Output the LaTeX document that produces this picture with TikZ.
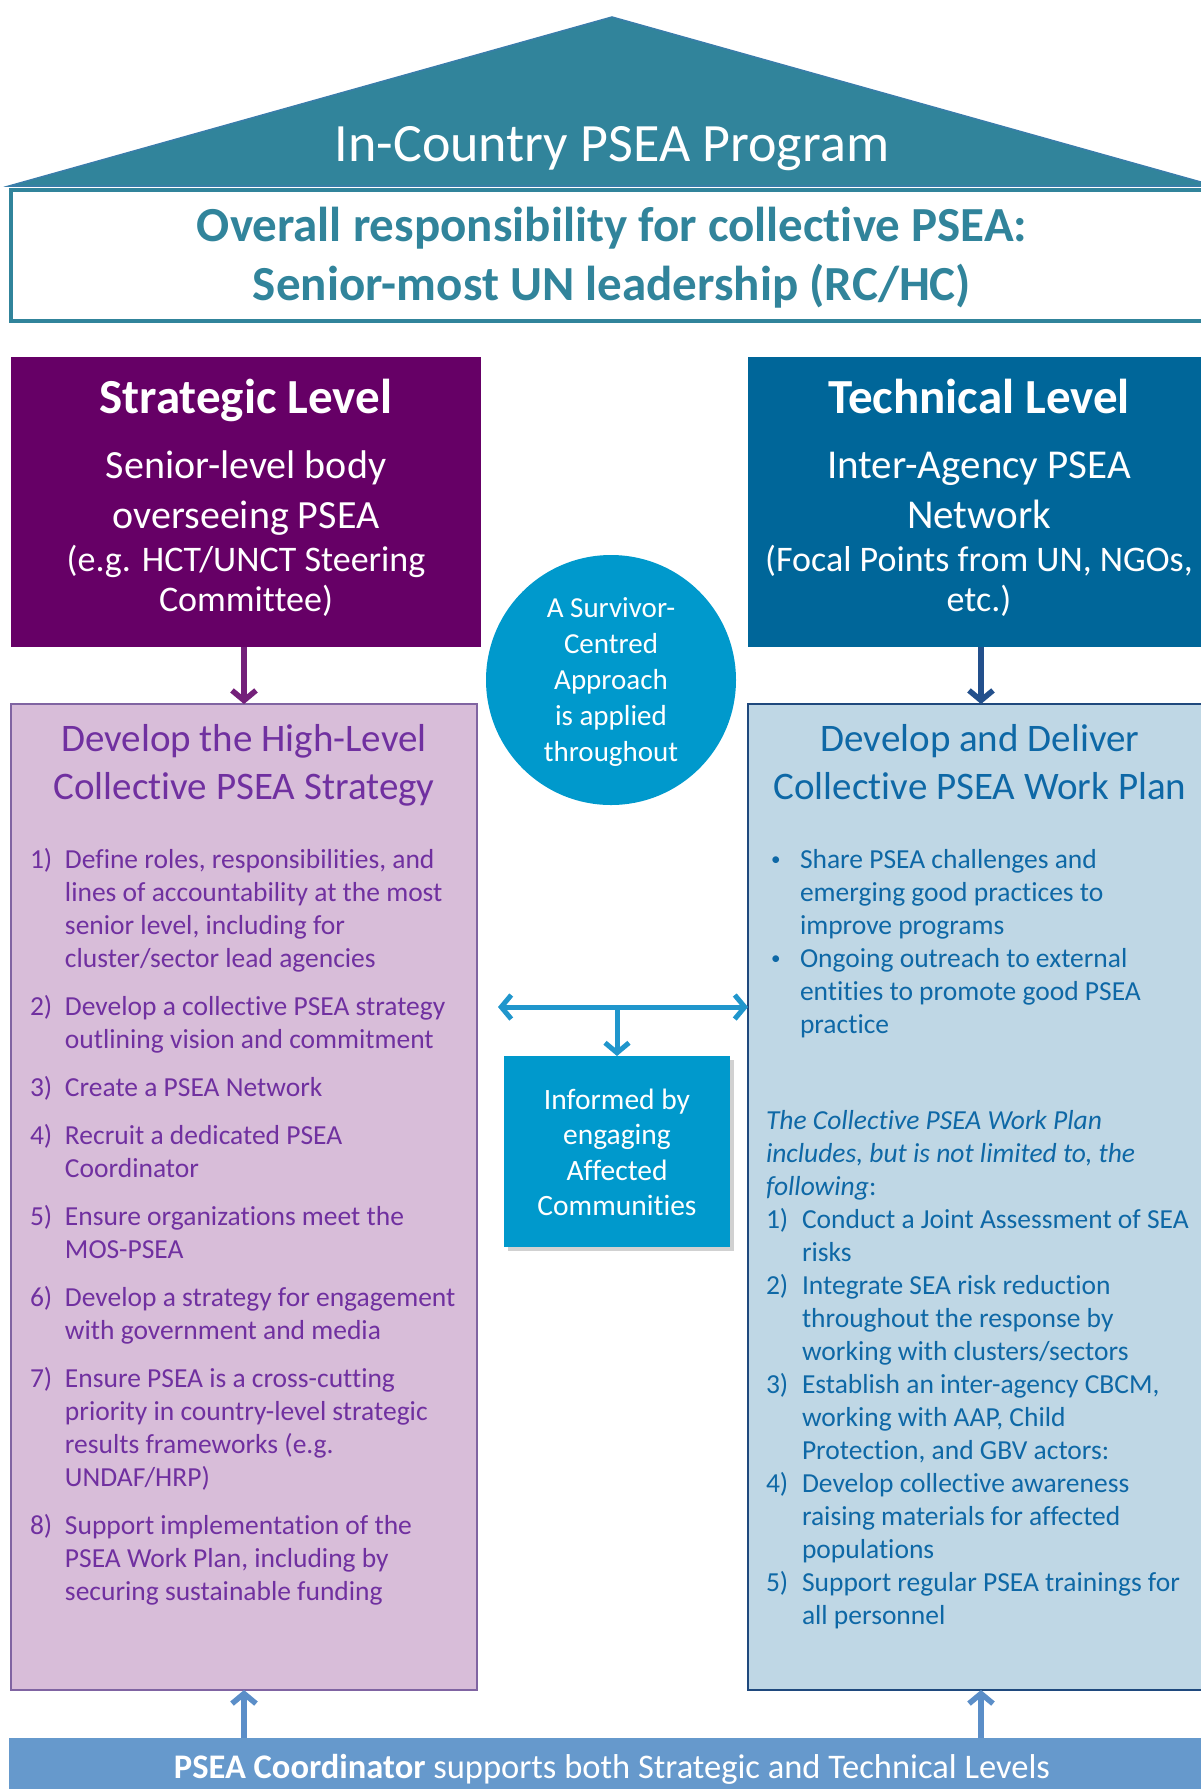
\documentclass[tikz,border=0pt]{standalone}
\usepackage{fontspec}
\setmainfont{Carlito}[Ligatures=NoCommon]
\usepackage{array}
\usetikzlibrary{arrows.meta}
\definecolor{cTeal}{HTML}{31849B}
\definecolor{cTriLine}{HTML}{3A7DAA}
\definecolor{cStrat}{HTML}{660066}
\definecolor{cTech}{HTML}{006699}
\definecolor{cLilac}{HTML}{D8BDD9}
\definecolor{cLilacLine}{HTML}{8064A2}
\definecolor{cLilacText}{HTML}{7030A0}
\definecolor{cBlueFill}{HTML}{BFD7E5}
\definecolor{cBlueLine}{HTML}{1F497D}
\definecolor{cBlueText}{HTML}{0E68A6}
\definecolor{cCircle}{HTML}{0099CC}
\definecolor{cLink}{HTML}{2096CC}
\definecolor{cBar}{HTML}{6699CC}
\definecolor{cUp}{HTML}{5B8EC8}
\definecolor{cDownL}{HTML}{74207A}
\definecolor{cDownR}{HTML}{23508C}
\newcommand{\fsz}[2]{\fontsize{#1}{#2}\selectfont}
\newcommand{\mlines}[1]{\begin{tabular}[t]{@{}c@{}}#1\end{tabular}}
\newcommand{\smallbul}{\raisebox{2.5pt}{\fsz{19}{19}\textbullet}}
\tikzset{
  txt/.style={inner sep=0pt, outer sep=0pt, anchor=base},
  panel/.style={rectangle, inner sep=0pt, outer sep=0pt, anchor=north west},
  barb/.style={-{Straight Barb[length=10pt,width=24pt]}, line width=5.5pt},
}
\begin{document}
\begin{tikzpicture}[x=1pt,y=-1pt]
\useasboundingbox (0,0) rectangle (1201,1789);
\clip (0,0) rectangle (1201,1789);

% roof
\filldraw[fill=cTeal, draw=cTriLine, line width=1.5pt] (612,17) -- (1215,186) -- (9,186) -- cycle;
\node[txt, text=white, font=\fsz{54}{60}] (prog) at (612,161) {In-Country PSEA Program};

% overall responsibility
\node[panel, draw=cTeal, fill=white, line width=4pt, minimum width=1210pt, minimum height=131pt] (resp) at (11,190) {};
\node[txt, text=cTeal, font=\fsz{49}{59}\bfseries] (resptxt) at (612,241)
  {\mlines{Overall responsibility for collective PSEA:\\Senior-most UN leadership (RC/HC)}};

% strategic level
\node[panel, fill=cStrat, minimum width=470pt, minimum height=290pt] (strat) at (11,357) {};
\node[txt, text=white, font=\fsz{49}{59}\bfseries] (strattitle) at (246,413) {Strategic Level};
\node[txt, text=white, font=\fsz{40}{50}] (stratbody) at (246,478) {\mlines{Senior-level body\\overseeing PSEA}};
\node[txt, text=white, font=\fsz{36}{40}] (stratex) at (246,571) {\mlines{(e.g. HCT/UNCT Steering\\Committee)}};

% technical level
\node[panel, fill=cTech, minimum width=466pt, minimum height=290pt] (tech) at (748,357) {};
\node[txt, text=white, font=\fsz{49}{59}\bfseries] (techtitle) at (979,413) {Technical Level};
\node[txt, text=white, font=\fsz{41}{50}] (techbody) at (979,478) {\mlines{Inter-Agency PSEA\\Network}};
\node[txt, text=white, font=\fsz{36}{40}] (techex) at (979,571) {\mlines{(Focal Points from UN, NGOs,\\etc.)}};

% survivor circle
\node[circle, fill=cCircle, minimum size=250pt, inner sep=0pt] (surv) at (611,680) {};
\node[txt, text=white, font=\fsz{29}{36}] (survtxt) at (611,617)
  {\mlines{A Survivor-\\Centred\\Approach\\is applied\\throughout}};

% strategy box (left)
\node[panel, fill=cLilac, draw=cLilacLine, line width=2pt, minimum width=466pt, minimum height=986pt] (lbox) at (11,704) {};
\node[txt, text=cLilacText, font=\fsz{39}{48}] (ltitle) at (244,751)
  {\mlines{Develop the High-Level\\Collective PSEA Strategy}};
\node[txt, anchor=base west, text=cLilacText, font=\fsz{27.5}{33}] (llist) at (30,868) {%
\begin{tabular}[t]{@{}p{35pt}@{}l@{}}
1) & Define roles, responsibilities, and\\
   & lines of accountability at the most\\
   & senior level, including for\\
   & cluster/sector lead agencies\\[15pt]
2) & Develop a collective PSEA strategy\\
   & outlining vision and commitment\\[15pt]
3) & Create a PSEA Network\\[15pt]
4) & Recruit a dedicated PSEA\\
   & Coordinator\\[15pt]
5) & Ensure organizations meet the\\
   & MOS-PSEA\\[15pt]
6) & Develop a strategy for engagement\\
   & with government and media\\[15pt]
7) & Ensure PSEA is a cross-cutting\\
   & priority in country-level strategic\\
   & results frameworks (e.g.\\
   & UNDAF/HRP)\\[15pt]
8) & Support implementation of the\\
   & PSEA Work Plan, including by\\
   & securing sustainable funding
\end{tabular}};

% work plan box (right)
\node[panel, fill=cBlueFill, draw=cBlueLine, line width=2pt, minimum width=466pt, minimum height=986pt] (rbox) at (748,704) {};
\node[txt, text=cBlueText, font=\fsz{39}{48}] (rtitle) at (980,751)
  {\mlines{Develop and Deliver\\Collective PSEA Work Plan}};
\node[txt, anchor=base west, text=cBlueText, font=\fsz{27.5}{33}] (rbullets) at (771,868) {%
\begin{tabular}[t]{@{}p{29pt}@{}l@{}}
\smallbul & Share PSEA challenges and\\
   & emerging good practices to\\
   & improve programs\\
\smallbul & Ongoing outreach to external\\
   & entities to promote good PSEA\\
   & practice
\end{tabular}};
\node[txt, anchor=base west, text=cBlueText, font=\fsz{27.5}{33}] (rlist) at (766,1129) {%
\begin{tabular}[t]{@{}p{36pt}@{}l@{}}
\multicolumn{2}{@{}l@{}}{\itshape The Collective PSEA Work Plan}\\
\multicolumn{2}{@{}l@{}}{\itshape includes, but is not limited to, the}\\
\multicolumn{2}{@{}l@{}}{{\itshape following}:}\\
1) & Conduct a Joint Assessment of SEA\\
   & risks\\
2) & Integrate SEA risk reduction\\
   & throughout the response by\\
   & working with clusters/sectors\\
3) & Establish an inter-agency CBCM,\\
   & working with AAP, Child\\
   & Protection, and GBV actors:\\
4) & Develop collective awareness\\
   & raising materials for affected\\
   & populations\\
5) & Support regular PSEA trainings for\\
   & all personnel
\end{tabular}};

% informed by communities
\fill[black, opacity=0.18] (508,1060) rectangle (734,1251);
\node[panel, fill=cCircle, minimum width=226pt, minimum height=191pt] (inf) at (504,1056) {};
\node[txt, text=white, font=\fsz{29.5}{35.5}] (inftxt) at (617,1109)
  {\mlines{Informed by\\engaging\\Affected\\Communities}};

% bottom bar
\node[panel, fill=cBar, minimum width=1206pt, minimum height=60pt] (bar) at (9,1738) {};
\node[txt, text=white, font=\fsz{34.5}{40}] (bartxt) at (612,1778)
  {\textbf{PSEA Coordinator} supports both Strategic and Technical Levels};

% connectors
\draw[barb, color=cDownL] (strat.south -| lbox.north) -- (lbox.north);
\draw[barb, color=cDownR] (tech.south -| rbox.north) -- (rbox.north);
\coordinate (hl) at (498,1007);
\draw[{Straight Barb[length=10pt,width=24pt]}-{Straight Barb[length=10pt,width=24pt]}, line width=5pt, color=cLink] (hl) -- (hl -| rbox.west);
\draw[barb, line width=5pt, color=cLink] (hl -| inf.north) -- (inf.north);
\draw[barb, color=cUp] (bar.north -| lbox.south) -- (lbox.south);
\draw[barb, color=cUp] (bar.north -| rbox.south) -- (rbox.south);
\end{tikzpicture}
\end{document}
